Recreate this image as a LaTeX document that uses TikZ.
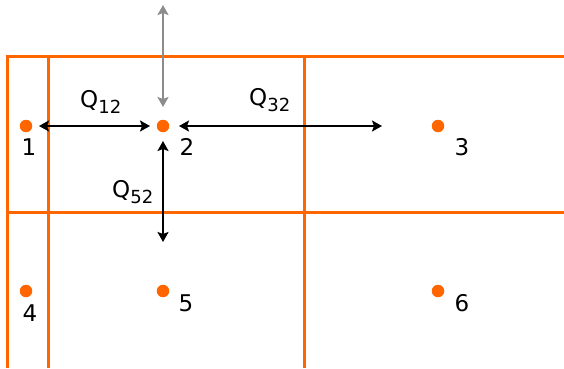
\documentclass[tikz,border=0pt]{standalone}
\usepackage{fontspec}
\setmainfont{DejaVu Sans}
\usetikzlibrary{arrows.meta}
\definecolor{cellorange}{RGB}{255,102,0}
\definecolor{fluxgray}{RGB}{140,140,140}

\newcommand{\flux}[1]{Q\raisebox{-0.3em}{\fontsize{18}{18}\selectfont #1}}

\begin{document}
\begin{tikzpicture}[x=1pt,y=-1pt,>={Stealth[length=10pt,width=11pt,inset=2pt]},
		cell/.style={draw=cellorange,line width=3pt},
		centre/.style={circle,fill=cellorange,inner sep=0pt,minimum size=12.5pt,outer sep=0pt},
		flow/.style={<->,line width=2.2pt,black},
		num/.style={anchor=base,font=\fontsize{23}{23}\selectfont,inner sep=0pt},
		qlabel/.style={anchor=base west,font=\fontsize{23}{23}\selectfont,inner sep=0pt}]
		\useasboundingbox (0,0) rectangle (564,368);
		% grid of cells
		\draw[cell] (564,56) -- (7,56) -- (7,368);
		\draw[cell] (7,212) -- (564,212);
		\draw[cell] (48,56) -- (48,368);
		\draw[cell] (304,56) -- (304,368);
		% cell centres
		\node[centre] (c1) at (26,126) {};
		\node[centre] (c2) at (163,126) {};
		\node[centre] (c3) at (438,126) {};
		\node[centre] (c4) at (26,291) {};
		\node[centre] (c5) at (163,291) {};
		\node[centre] (c6) at (438,291) {};
		\node[num] (n1) at (29,155) {1};
		\node[num] (n2) at (187,155) {2};
		\node[num] (n3) at (462,155) {3};
		\node[num] (n4) at (30,321) {4};
		\node[num] (n5) at (186,311) {5};
		\node[num] (n6) at (462,311) {6};
		% flows into cell 2
		\coordinate (e3) at (382,126);
		\coordinate (e5) at (163,242);
		\coordinate (top) at (163,5);
		\coordinate (s2) at (163,107);
		\draw[flow] (39,126) -- (150,126);
		\draw[flow] (179,126) -- (e3);
		\draw[flow] (163,141) -- (e5);
		\draw[flow,fluxgray] (top) -- (s2);
		\node[qlabel] (q12) at (80,107) {\flux{12}};
		\node[qlabel] (q32) at (249,105) {\flux{32}};
		\node[qlabel] (q52) at (112,197) {\flux{52}};
	\end{tikzpicture}
\end{document}
